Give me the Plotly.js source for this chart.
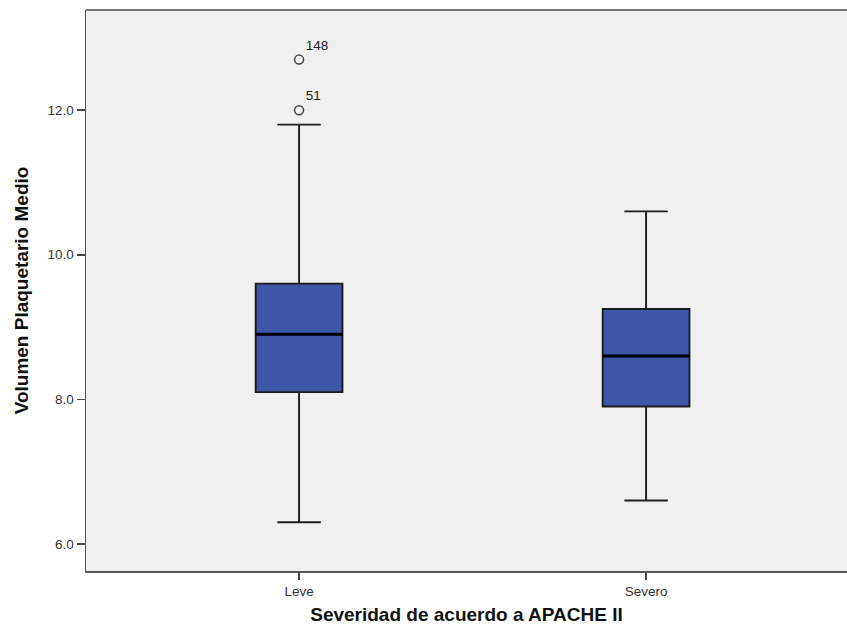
<!DOCTYPE html>
<html>
<head>
<meta charset="utf-8">
<script src="https://cdn.plot.ly/plotly-3.0.1.min.js"></script>
<style>
  html, body { margin: 0; padding: 0; background: #ffffff; }
  #chart { width: 847px; height: 627px; }
</style>
</head>
<body>
<div id="chart"></div>
<script>
// Grupos de severidad (APACHE II) y resumen de cinco números del VPM
const categories  = ['Leve', 'Severo'];
const q1          = [8.1, 7.9];
const medians     = [8.9, 8.6];
const q3          = [9.6, 9.25];
const lowerFences = [6.3, 6.6];
const upperFences = [11.8, 10.6];

// Valores atípicos (grupo, valor, número de caso)
const outlierGroup = [0, 0];
const outlierValue = [12.0, 12.7];
const outlierCase  = ['51', '148'];

const yTicks = [6, 8, 10, 12];

const BOX_W = 0.25;
const positions = categories.map((_, i) => i);

const boxTrace = {
  type: 'box',
  x: positions,
  q1: q1,
  median: medians,
  q3: q3,
  lowerfence: lowerFences,
  upperfence: upperFences,
  width: BOX_W,
  whiskerwidth: 0.5,
  boxpoints: false,
  fillcolor: '#3e56a8',
  line: { color: '#1c1c1c', width: 1.9 },
  hoverinfo: 'skip',
  showlegend: false
};

// Línea de la mediana más gruesa, como en el estilo SPSS
const medianTraces = positions.map((p, i) => ({
  type: 'scatter',
  mode: 'lines',
  x: [p - BOX_W / 2, p + BOX_W / 2],
  y: [medians[i], medians[i]],
  line: { color: '#000000', width: 3 },
  hoverinfo: 'skip',
  showlegend: false
}));

const outlierTrace = {
  type: 'scatter',
  mode: 'markers+text',
  x: outlierGroup.map(g => positions[g]),
  y: outlierValue,
  text: outlierCase,
  textposition: 'top right',
  textfont: { family: 'Liberation Sans, Arial, sans-serif', size: 13.5, color: '#222' },
  marker: { symbol: 'circle-open', size: 9, color: '#444', line: { width: 1.5 } },
  hoverinfo: 'skip',
  showlegend: false
};

const layout = {
  width: 847,
  height: 627,
  margin: { l: 86, r: 0, t: 10, b: 56 },
  paper_bgcolor: '#ffffff',
  plot_bgcolor: '#f0f0f0',
  font: { family: 'Liberation Sans, Arial, sans-serif', color: '#333' },
  xaxis: {
    range: [-0.614, 1.579],
    tickvals: positions,
    ticktext: categories,
    ticks: 'outside',
    ticklen: 7,
    tickwidth: 1.5,
    tickcolor: '#444',
    tickfont: { size: 13.5, color: '#333' },
    showgrid: false,
    zeroline: false,
    showline: true,
    linecolor: '#555',
    linewidth: 1.5,
    mirror: false,
    title: {
      text: '<b>Severidad de acuerdo a APACHE II</b>',
      font: { size: 19, color: '#111' },
      standoff: 10
    }
  },
  yaxis: {
    range: [5.625, 13.386],
    tickvals: yTicks,
    ticktext: yTicks.map(v => v.toFixed(1)),
    ticks: 'outside',
    ticklen: 8,
    tickwidth: 1.5,
    tickcolor: '#444',
    tickfont: { size: 13.5, color: '#333' },
    showgrid: false,
    zeroline: false,
    showline: true,
    linecolor: '#555',
    linewidth: 1.5,
    title: {
      text: '<b>Volumen Plaquetario Medio</b>',
      font: { size: 19, color: '#111' },
      standoff: 14
    }
  },
  shapes: [{
    type: 'line', xref: 'paper', yref: 'paper',
    x0: 0, x1: 1, y0: 1, y1: 1,
    line: { color: '#777', width: 2 }
  }]
};

Plotly.newPlot('chart', [boxTrace, ...medianTraces, outlierTrace], layout, { displayModeBar: false, staticPlot: true });
</script>
</body>
</html>
